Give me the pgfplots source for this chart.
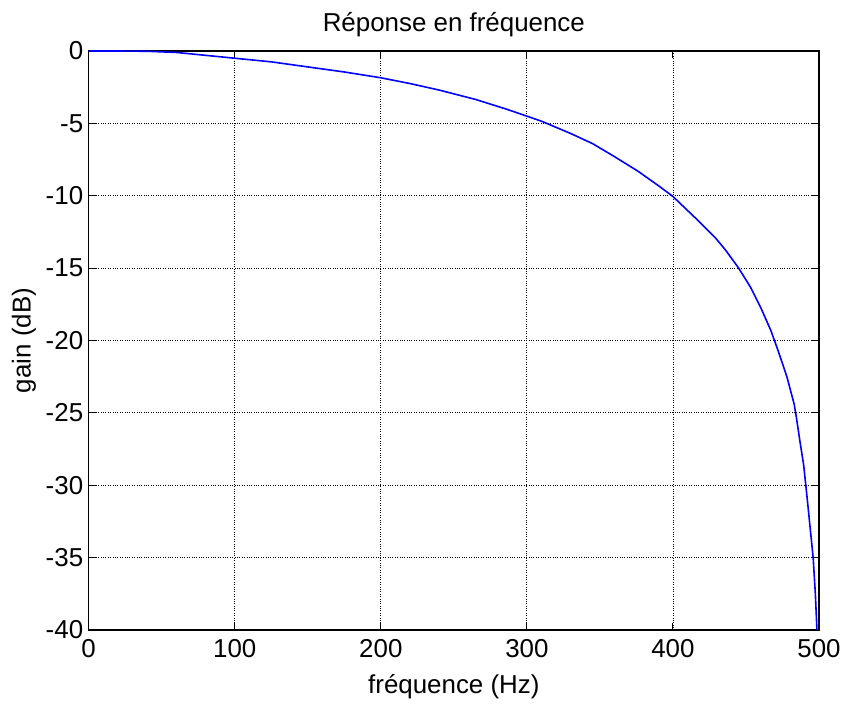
\documentclass[border=0pt]{standalone}
\usepackage{pgfplots}
\pgfplotsset{compat=1.18}
\usepackage{fontspec}
\setmainfont{Liberation Sans}
\begin{document}
\begin{tikzpicture}[x=1bp,y=1bp]
\path (-88.7bp,-74bp) rectangle (757.3bp,630bp);
\begin{axis}[
  at={(0,0)}, anchor=south west,
  scale only axis,
  width=730.3bp, height=579bp,
  xmin=0, xmax=500, ymin=-40, ymax=0,
  xtick={0,100,...,500},
  ytick={-40,-35,...,0},
  /pgf/number format/assume math mode=true,
  tick label style={font=\fontsize{26}{28}\selectfont},
  label style={font=\fontsize{26}{28}\selectfont},
  title style={font=\fontsize{26}{28}\selectfont},
  title={Réponse en fréquence},
  xlabel={fréquence (Hz)},
  ylabel={gain (dB)},
  grid=major,
  grid style={black, dotted, line width=0.8pt},
  axis line style={black, line width=1.3pt},
  tick align=inside,
  major tick length=7bp,
  tick style={black, line width=1pt},
  xticklabel style={yshift=-6bp},
  yticklabel style={xshift=-2bp},
  xlabel style={yshift=-10bp},
  ylabel style={yshift=3bp},
  title style={yshift=5bp},
]
\addplot[blue, line width=1.6pt] coordinates {
(0,0) (20,0) (40,-0.02) (60,-0.1) (80,-0.3) (100,-0.5) (125,-0.75)
(150,-1.1) (175,-1.45) (200,-1.85) (220,-2.25) (240,-2.7) (265,-3.35)
(287,-4.05) (310,-4.85) (330,-5.7) (345,-6.4) (360,-7.3) (376,-8.3)
(390,-9.3) (400,-10.05) (415,-11.5) (429,-12.9) (436,-13.75) (445,-15.0)
(453,-16.3) (460,-17.7) (467,-19.3) (472,-20.7) (478,-22.5) (483,-24.4)
(484.5,-25.3) (487,-27) (489.5,-28.6) (492,-31) (494,-33) (496,-35.0)
(497.5,-37.5) (498.6,-40)
};
\end{axis}
\end{tikzpicture}
\end{document}
